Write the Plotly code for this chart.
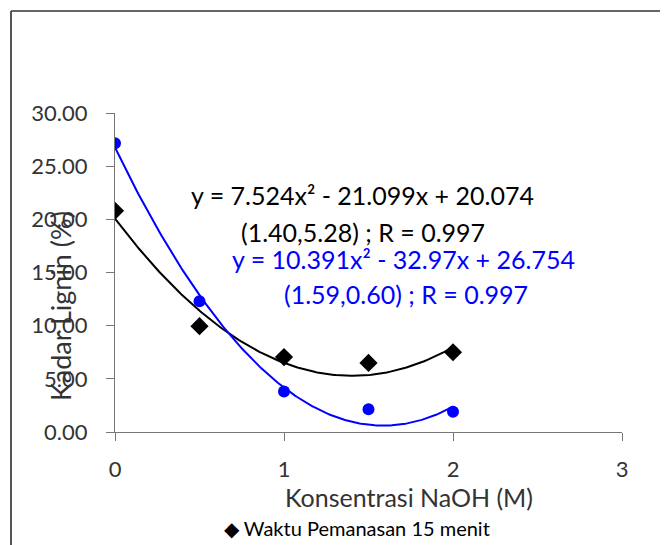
import numpy as np
import plotly.graph_objects as go

# ---- data ----
konsentrasi = [0, 0.5, 1, 1.5, 2]
kadar_15 = [20.8, 9.95, 7.05, 6.5, 7.5]      # black diamonds
kadar_blue = [27.15, 12.3, 3.8, 2.15, 1.9]   # blue circles
coef_15 = [7.524, -21.099, 20.074]           # trendline coefficients (x^2, x, c)
coef_blue = [10.391, -32.97, 26.754]
x_ticks = [0, 1, 2, 3]
y_ticks = [0, 5, 10, 15, 20, 25, 30]
legend_name = "Waktu Pemanasan 15 menit"

FONT = "Lato"
OFF = 8  # page body margin in the browser
W, H = 668 - OFF, 545 - OFF
# target pixel positions (in the screenshot) of plot area
PX0, PX1, PY0, PY1 = 115, 622, 113, 432
L, T = PX0 - OFF, PY0 - OFF
R, B = W - (PX1 - OFF), H - (PY1 - OFF)
pw, ph = PX1 - PX0, PY1 - PY0


def px_x(p):
    return (p - PX0) / pw


def px_y(p):
    return (PY1 - p) / ph


xs = np.linspace(min(konsentrasi), max(konsentrasi), 200)
fit_15 = np.polyval(coef_15, xs)
fit_blue = np.polyval(coef_blue, xs)

fig = go.Figure()
fig.add_trace(go.Scatter(x=xs, y=fit_15, mode="lines", line=dict(color="black", width=2),
                         showlegend=False, hoverinfo="skip"))
fig.add_trace(go.Scatter(x=xs, y=fit_blue, mode="lines", line=dict(color="#0000ff", width=2),
                         showlegend=False, hoverinfo="skip"))
fig.add_trace(go.Scatter(x=konsentrasi, y=kadar_15, mode="markers", name=legend_name,
                         showlegend=False,
                         marker=dict(symbol="diamond", size=14, color="black")))
fig.add_trace(go.Scatter(x=konsentrasi, y=kadar_blue, mode="markers", showlegend=False,
                         marker=dict(symbol="circle", size=12, color="#0000ff")))

axis_common = dict(showgrid=False, zeroline=False, showline=True, linecolor="#777777",
                   linewidth=1.3, ticks="outside", ticklen=8, tickcolor="#777777",
                   tickwidth=1.3, tickfont=dict(family=FONT, size=22, color="#333333"))

fig.update_xaxes(range=[0, 3], tickvals=x_ticks, ticktext=[str(v) for v in x_ticks],
                 ticklabelstandoff=9, **axis_common)
fig.update_yaxes(range=[0, 30], tickvals=y_ticks, ticktext=[f"{v:.2f}" for v in y_ticks],
                 ticklabelstandoff=14, **axis_common)


def note(text, x, y, size, color, angle=0):
    return dict(text=text, x=px_x(x), y=px_y(y), xref="paper", yref="paper",
                xanchor="center", yanchor="middle", textangle=angle, showarrow=False,
                font=dict(family=FONT, size=size, color=color))


ann = [
    note("Kadar Lignin (%)", 60, 306, 27, "#333333", -90),
    note("Konsentrasi NaOH (M)", 409, 497, 25, "#333333"),
    note("y = 7.524x² - 21.099x + 20.074", 362, 195, 25, "black"),
    note("(1.40,5.28) ; R = 0.997", 363, 232, 25, "black"),
    note("y = 10.391x² - 32.97x + 26.754", 403, 259, 25, "#0000ff"),
    note("(1.59,0.60) ; R = 0.997", 406, 294, 25, "#0000ff"),
    note("◆ " + legend_name, 357, 528, 20, "black"),
]

shapes = [
    dict(type="line", xref="paper", yref="paper", x0=px_x(11), x1=px_x(680), y0=px_y(11), y1=px_y(11),
         line=dict(color="#333333", width=1.5)),
    dict(type="line", xref="paper", yref="paper", x0=px_x(11), x1=px_x(11), y0=px_y(11), y1=px_y(560),
         line=dict(color="#555555", width=2)),
]

fig.update_layout(
    width=W, height=H, margin=dict(l=L, r=R, t=T, b=B),
    paper_bgcolor="white", plot_bgcolor="white",
    annotations=ann, shapes=shapes,
    showlegend=False,
)

fig.write_html("out.html")
